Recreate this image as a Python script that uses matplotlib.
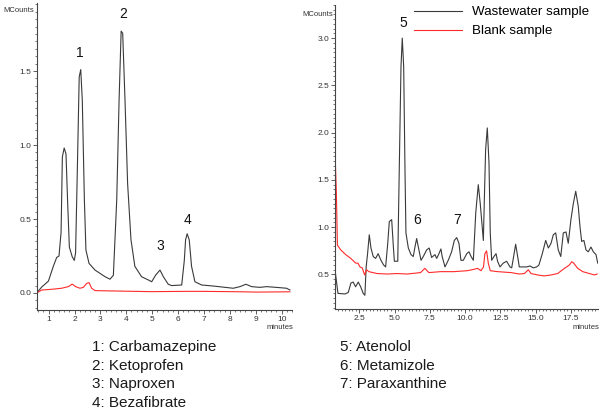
import numpy as np
import matplotlib
matplotlib.use("Agg")
import matplotlib.pyplot as plt
from matplotlib.ticker import MultipleLocator, FormatStrFormatter

plt.rcParams["font.family"] = ["Liberation Sans", "DejaVu Sans"]

# ---------------- data ----------------
# left chromatogram (minutes, MCounts)
left_ww_t = [0.54, 0.73, 0.99, 1.18, 1.31, 1.40, 1.48, 1.53, 1.60, 1.67,
             1.73, 1.80, 1.91, 1.99, 2.04, 2.11, 2.18, 2.24, 2.30, 2.38,
             2.44, 2.56, 2.79, 2.98, 3.18, 3.37, 3.50, 3.63, 3.72, 3.80,
             3.86, 3.95, 4.05, 4.18, 4.33, 4.59, 4.85, 4.98, 5.13, 5.30,
             5.43, 5.62, 5.75, 6.14, 6.24, 6.29, 6.35, 6.43, 6.52, 6.65,
             6.91, 7.36, 8.13, 8.39, 8.62, 8.84, 9.16, 9.42, 9.93, 10.19,
             10.32]
left_ww_v = [0.00, 0.04, 0.08, 0.18, 0.24, 0.25, 0.41, 0.92, 0.98, 0.94,
             0.63, 0.31, 0.245, 0.22, 0.27, 0.85, 1.46, 1.51, 1.30, 0.63,
             0.29, 0.20, 0.155, 0.133, 0.11, 0.093, 0.12, 0.63, 1.30, 1.77,
             1.755, 1.30, 0.74, 0.36, 0.18, 0.11, 0.088, 0.076, 0.12, 0.155,
             0.11, 0.059, 0.05, 0.054, 0.22, 0.36, 0.40, 0.36, 0.18, 0.076,
             0.054, 0.047, 0.032, 0.043, 0.059, 0.043, 0.038, 0.043, 0.036, 0.032,
             0.02]
left_bl_t = [0.54, 0.73, 1.12, 1.50, 1.76, 1.91, 2.04, 2.21, 2.34, 2.47,
             2.56, 2.66, 2.79, 3.69, 4.98, 6.26, 6.91, 7.5, 8.5, 9.0, 10.32]
left_bl_v = [0.0, 0.02, 0.025, 0.032, 0.043, 0.06, 0.043, 0.032, 0.038, 0.065,
             0.07, 0.032, 0.016, 0.013, 0.009, 0.011, 0.011, 0.01, 0.008, 0.006, 0.008]

# right chromatogram
right_ww_t = [0.78, 0.99, 1.49, 1.72, 1.91, 2.07, 2.24, 2.43, 2.60, 2.78,
              2.90, 2.99, 3.09, 3.21, 3.33, 3.49, 3.66, 3.84, 4.04, 4.23,
              4.37, 4.52, 4.63, 4.80, 4.92, 4.99, 5.23, 5.34, 5.46, 5.55,
              5.65, 5.74, 5.81, 5.98, 6.17, 6.33, 6.45, 6.57, 6.69, 6.88,
              7.04, 7.28, 7.46, 7.63, 7.87, 7.99, 8.15, 8.29, 8.38, 8.58,
              8.81, 9.05, 9.24, 9.41, 9.57, 9.71, 9.88, 10.12, 10.28, 10.43,
              10.59, 10.76, 10.94, 11.08, 11.30, 11.37, 11.46, 11.58, 11.70, 11.79,
              11.89, 12.05, 12.20, 12.31, 12.48, 12.71, 12.95, 13.19, 13.31, 13.47,
              13.59, 13.70, 13.85, 14.13, 14.37, 14.61, 14.84, 15.08, 15.24, 15.48,
              15.72, 15.91, 16.10, 16.26, 16.43, 16.61, 16.79, 16.97, 17.16, 17.32,
              17.51, 17.68, 17.85, 18.03, 18.15, 18.27, 18.43, 18.58, 18.74, 18.93,
              19.10, 19.29, 19.41]
right_ww_v = [0.55, 0.30, 0.294, 0.31, 0.41, 0.42, 0.37, 0.42, 0.37, 0.30,
              0.28, 0.58, 0.72, 0.92, 0.78, 0.69, 0.67, 0.72, 0.65, 0.60,
              0.58, 0.83, 1.06, 1.08, 0.79, 0.64, 0.64, 1.64, 2.70, 3.00,
              2.70, 1.64, 0.94, 0.78, 0.71, 0.69, 0.79, 0.88, 0.79, 0.65,
              0.69, 0.76, 0.78, 0.68, 0.71, 0.67, 0.72, 0.77, 0.69, 0.58,
              0.65, 0.74, 0.86, 0.89, 0.83, 0.65, 0.65, 0.72, 0.74, 0.69,
              0.65, 1.15, 1.45, 1.25, 0.86, 1.29, 1.82, 2.05, 1.68, 0.94,
              0.65, 0.69, 0.72, 0.64, 0.58, 0.62, 0.64, 0.58, 0.57, 0.71,
              0.82, 0.72, 0.58, 0.58, 0.58, 0.59, 0.57, 0.58, 0.60, 0.72,
              0.86, 0.78, 0.83, 0.92, 0.94, 0.76, 0.69, 0.94, 0.95, 0.83,
              1.08, 1.25, 1.38, 1.22, 1.01, 0.85, 0.86, 0.76, 0.74, 0.79,
              0.74, 0.71, 0.62]
right_bl_t = [0.78, 0.80, 0.88, 0.95, 1.19, 1.54, 1.90, 2.25, 2.41, 2.55,
              2.71, 2.88, 3.02, 3.18, 3.77, 4.48, 5.19, 5.90, 6.85, 7.15,
              7.44, 8.26, 9.21, 10.16, 10.65, 10.89, 11.13, 11.31, 11.41, 11.53,
              11.65, 11.79, 12.31, 13.26, 13.85, 14.21, 14.49, 14.68, 15.15, 15.62,
              16.10, 16.57, 17.05, 17.40, 17.57, 17.71, 17.99, 18.35, 18.82, 19.18,
              19.37]
right_bl_v = [1.50, 1.71, 1.35, 0.81, 0.76, 0.71, 0.67, 0.62, 0.62, 0.58,
              0.57, 0.495, 0.55, 0.53, 0.51, 0.505, 0.51, 0.505, 0.52, 0.565,
              0.52, 0.53, 0.53, 0.54, 0.555, 0.565, 0.54, 0.58, 0.72, 0.75,
              0.62, 0.54, 0.53, 0.52, 0.505, 0.51, 0.55, 0.51, 0.495, 0.485,
              0.495, 0.51, 0.565, 0.60, 0.635, 0.62, 0.565, 0.53, 0.51, 0.495,
              0.505]

# peak numbers
left_peaks = [("1", 2.21, 1.62), ("2", 3.87, 1.885), ("3", 5.30, 0.32), ("4", 6.38, 0.49)]
right_peaks = [("5", 5.60, 3.16), ("6", 6.59, 1.08), ("7", 9.43, 1.08)]

left_names = ["1: Carbamazepine", "2: Ketoprofen", "3: Naproxen", "4: Bezafibrate"]
right_names = ["5: Atenolol", "6: Metamizole", "7: Paraxanthine"]

BLACK = "#3a3a3a"
RED = "#ff2a2a"
AXC = "#444444"

W, H = 600, 411
fig = plt.figure(figsize=(6, 4.11), dpi=100)


def px_rect(x0, x1, ytop, ybot):
    return [x0 / W, 1 - ybot / H, (x1 - x0) / W, (ybot - ytop) / H]


def style(ax):
    for s in ("top", "right"):
        ax.spines[s].set_visible(False)
    for s in ("left", "bottom"):
        ax.spines[s].set_color(AXC)
        ax.spines[s].set_linewidth(0.8)
    ax.tick_params(which="major", length=3, width=0.6, color=AXC,
                   labelsize=6, labelcolor="#333333", pad=1.2)
    ax.tick_params(which="minor", length=1.6, width=0.5, color=AXC)
    ax.set_facecolor("none")


ax1 = fig.add_axes(px_rect(37, 292, 3, 310))
ax1.plot(left_ww_t, left_ww_v, color=BLACK, lw=0.8)
ax1.plot(left_bl_t, left_bl_v, color=RED, lw=0.8)
ax1.set_xlim(0.55, 10.4)
ax1.set_ylim(-0.115, 1.96)
ax1.xaxis.set_major_locator(MultipleLocator(1))
ax1.xaxis.set_minor_locator(MultipleLocator(0.2))
ax1.yaxis.set_major_locator(MultipleLocator(0.5))
ax1.yaxis.set_minor_locator(MultipleLocator(0.05))
ax1.yaxis.set_major_formatter(FormatStrFormatter("%.1f"))
style(ax1)
for lab, x, y in left_peaks:
    ax1.text(x, y, lab, fontsize=10, ha="center", va="center", color="#111111")

ax2 = fig.add_axes(px_rect(335, 598, 5, 309))
ax2.plot(right_ww_t, right_ww_v, color=BLACK, lw=0.8, label="Wastewater sample")
ax2.plot(right_bl_t, right_bl_v, color=RED, lw=0.8, label="Blank sample")
ax2.set_xlim(0.78, 19.43)
ax2.set_ylim(0.135, 3.35)
ax2.xaxis.set_major_locator(MultipleLocator(2.5))
ax2.xaxis.set_minor_locator(MultipleLocator(0.25))
ax2.xaxis.set_major_formatter(FormatStrFormatter("%.1f"))
ax2.yaxis.set_major_locator(MultipleLocator(0.5))
ax2.yaxis.set_minor_locator(MultipleLocator(0.05))
ax2.yaxis.set_major_formatter(FormatStrFormatter("%.1f"))
style(ax2)
for lab, x, y in right_peaks:
    ax2.text(x, y, lab, fontsize=10, ha="center", va="center", color="#111111")

ax2.legend(loc="upper left", bbox_to_anchor=(414 / W, 1 - 6 / H),
           bbox_transform=fig.transFigure, frameon=False, fontsize=9.6,
           handlelength=3.6, handletextpad=0.75, labelspacing=0.5,
           borderpad=0, borderaxespad=0)

# axis captions
fig.text(34 / W, 1 - 10 / H, "MCounts", fontsize=5.5, ha="right", va="center", color="#333333")
fig.text(333 / W, 1 - 14 / H, "MCounts", fontsize=5.5, ha="right", va="center", color="#333333")
fig.text(293 / W, 1 - 327 / H, "minutes", fontsize=5.5, ha="right", va="center", color="#333333")
fig.text(599 / W, 1 - 327 / H, "minutes", fontsize=5.5, ha="right", va="center", color="#333333")

# compound lists
for i, name in enumerate(left_names):
    fig.text(92 / W, 1 - (347 + 18.7 * i) / H, name, fontsize=11, va="center", color="#1a1a1a")
for i, name in enumerate(right_names):
    fig.text(340 / W, 1 - (347 + 18.7 * i) / H, name, fontsize=11, va="center", color="#1a1a1a")

fig.savefig("out.png", dpi=100)
